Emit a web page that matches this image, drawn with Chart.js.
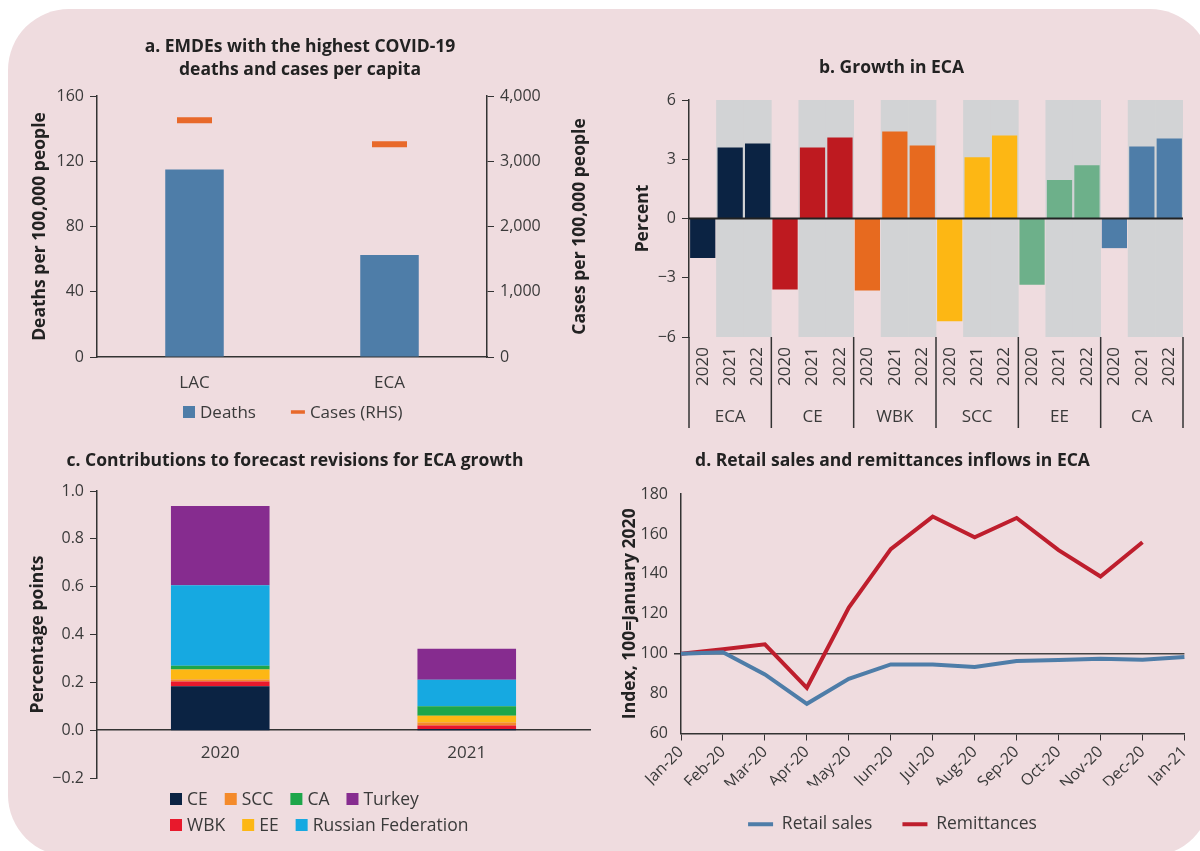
<!DOCTYPE html>
<html>
<head>
<meta charset="utf-8">
<script src="https://cdn.jsdelivr.net/npm/chart.js@4.4.0/dist/chart.umd.min.js"></script>
<style>
  body { margin: 0; background: #fff; width: 1200px; height: 851px; overflow: hidden; position: relative; }
  #card { position: absolute; left: 8px; top: 9px; width: 1203px; height: 847px; border-radius: 61px; background: #efdcdf; }
  canvas { position: absolute; }
</style>
</head>
<body>
<div id="card"></div>
<canvas id="chartA" width="600" height="405" style="left:0;top:25px"></canvas>
<canvas id="chartB" width="600" height="392" style="left:600px;top:45px"></canvas>
<canvas id="chartC" width="600" height="411" style="left:0;top:440px"></canvas>
<canvas id="chartD" width="600" height="403" style="left:600px;top:440px"></canvas>
<script>
// panel a
var regionsA = ['LAC', 'ECA'];
var deaths = [115, 62.5];
var cases = [3630, 3260];

// panel b
var groupsB = ['ECA', 'CE', 'WBK', 'SCC', 'EE', 'CA'];
var yearsB = ['2020', '2021', '2022'];
var growthB = [
  -2.0, 3.6, 3.8,
  -3.6, 3.6, 4.1,
  -3.65, 4.4, 3.7,
  -5.2, 3.1, 4.2,
  -3.35, 1.95, 2.7,
  -1.5, 3.65, 4.05
];
var groupColorsB = ['#0b2343', '#be1a20', '#e76a1f', '#fdb714', '#6db08a', '#4e7da8'];

// panel c
var yearsC = ['2020', '2021'];
var contribCE = [0.184, 0.005];
var contribWBK = [0.02, 0.015];
var contribSCC = [0.008, 0.012];
var contribEE = [0.042, 0.028];
var contribCA = [0.015, 0.04];
var contribRussia = [0.337, 0.111];
var contribTurkey = [0.331, 0.129];

// panel d
var monthsD = ['Jan-20', 'Feb-20', 'Mar-20', 'Apr-20', 'May-20', 'Jun-20', 'Jul-20',
  'Aug-20', 'Sep-20', 'Oct-20', 'Nov-20', 'Dec-20', 'Jan-21'];
var retailSales = [100, 100.7, 89.6, 74.9, 87.4, 94.6, 94.6, 93.3, 96.3, 96.8, 97.5, 97.0, 98.3];
var remittances = [100, 102.2, 104.7, 82.9, 123.1, 152.4, 168.7, 158.3, 168.0, 151.9, 138.7, 155.8, null];

var fontFamily = '"Open Sans", "Noto Sans", sans-serif';
Chart.defaults.font.family = fontFamily;
Chart.defaults.font.size = 16;
Chart.defaults.color = '#3a3a3a';
Chart.defaults.animation = false;
Chart.defaults.responsive = false;
Chart.defaults.plugins.tooltip.enabled = false;

var dark = '#333';
var titleFont = { size: 17.5, weight: 'bold', lineHeight: 1.31 };
var axisTitleFont = { size: 17.5, weight: 'bold' };

function minus(v, digits) {
  v = Number(v.toFixed(digits));
  var s = Math.abs(v).toFixed(digits);
  return v < 0 ? '\u2212' + s : s;
}

// right axis title, reading bottom to top
const rightTitle = {
  id: 'rightTitle',
  afterDraw(chart, args, opts) {
    const ctx = chart.ctx;
    const area = chart.chartArea;
    ctx.save();
    ctx.translate(opts.x, (area.top + area.bottom) / 2);
    ctx.rotate(-Math.PI / 2);
    ctx.font = 'bold 17.5px ' + fontFamily;
    ctx.fillStyle = '#222';
    ctx.textAlign = 'center';
    ctx.textBaseline = 'middle';
    ctx.fillText(opts.text, 0, 0);
    ctx.restore();
  }
};

// dark line at zero drawn over the bars
const zeroLine = {
  id: 'zeroLine',
  afterDatasetsDraw(chart) {
    const ctx = chart.ctx;
    const area = chart.chartArea;
    const y = chart.scales.y.getPixelForValue(0);
    ctx.save();
    ctx.strokeStyle = '#222';
    ctx.lineWidth = 2;
    ctx.beginPath();
    ctx.moveTo(area.left, y);
    ctx.lineTo(area.right, y);
    ctx.stroke();
    ctx.restore();
  }
};

// group separators and group names under the year labels
const groupLabels = {
  id: 'groupLabels',
  afterDraw(chart, args, opts) {
    const ctx = chart.ctx;
    const x = chart.scales.x;
    const bottom = chart.chartArea.bottom;
    const n = opts.groups.length;
    const w = (x.right - x.left) / n;
    ctx.save();
    ctx.strokeStyle = dark;
    ctx.lineWidth = 1.5;
    for (let i = 0; i <= n; i++) {
      const px = x.left + i * w;
      ctx.beginPath();
      ctx.moveTo(px, bottom);
      ctx.lineTo(px, bottom + opts.length);
      ctx.stroke();
    }
    ctx.font = '17px ' + fontFamily;
    ctx.fillStyle = '#3a3a3a';
    ctx.textAlign = 'center';
    ctx.textBaseline = 'middle';
    opts.groups.forEach((g, i) => {
      ctx.fillText(g, x.left + (i + 0.5) * w, bottom + opts.labelOffset);
    });
    ctx.restore();
  }
};

// legend in fixed rows, each row starting from the same left edge
const rowLegend = {
  id: 'rowLegend',
  afterDraw(chart, args, opts) {
    const ctx = chart.ctx;
    ctx.save();
    ctx.font = opts.fontSize + 'px ' + fontFamily;
    ctx.textBaseline = 'middle';
    opts.rows.forEach((row, r) => {
      let x = opts.x;
      const y = opts.y + r * (opts.rowGap || 0);
      row.forEach(name => {
        const ds = chart.data.datasets.find(d => d.label === name);
        let w = 12;
        if (ds.type === 'line') {
          w = opts.lineLength;
          ctx.strokeStyle = ds.borderColor;
          ctx.lineWidth = opts.lineWidth;
          ctx.beginPath();
          ctx.moveTo(x, y);
          ctx.lineTo(x + w, y);
          ctx.stroke();
        } else {
          ctx.fillStyle = ds.backgroundColor;
          ctx.fillRect(x, y - 6, 12, 12);
        }
        ctx.fillStyle = '#3a3a3a';
        ctx.fillText(name, x + w + 5, y + 1);
        x += w + 5 + ctx.measureText(name).width + opts.gap;
      });
    });
    ctx.restore();
  }
};

// a. deaths and cases
new Chart(document.getElementById('chartA'), {
  data: {
    labels: regionsA,
    datasets: [{
      type: 'bar',
      label: 'Deaths',
      data: deaths,
      backgroundColor: '#4e7da8',
      barPercentage: 0.3,
      categoryPercentage: 1,
      yAxisID: 'y'
    }, {
      type: 'line',
      label: 'Cases (RHS)',
      data: cases,
      showLine: false,
      pointStyle: 'line',
      pointRadius: 17.5,
      pointBorderWidth: 6,
      borderColor: '#e8692a',
      backgroundColor: '#e8692a',
      yAxisID: 'y1'
    }]
  },
  options: {
    layout: { padding: { left: 0, right: 0, top: 0, bottom: 38 } },
    plugins: {
      title: {
        display: true,
        text: ['a. EMDEs with the highest COVID-19', 'deaths and cases per capita'],
        font: titleFont,
        color: '#222',
        padding: { top: 10.5, bottom: 14.7 }
      },
      legend: { display: false },
      rowLegend: {
        x: 183, y: 387, gap: 35, fontSize: 17, lineLength: 14, lineWidth: 3.5,
        rows: [['Deaths', 'Cases (RHS)']]
      },
      rightTitle: { x: 580, text: 'Cases per 100,000 people' }
    },
    scales: {
      x: {
        grid: { display: false },
        border: { color: dark, width: 1.5 },
        ticks: { padding: 8, font: { size: 17 } },
        afterFit(s) { s.height = 35; }
      },
      y: {
        min: 0, max: 160,
        ticks: { stepSize: 40, padding: 6 },
        grid: { drawOnChartArea: false, tickLength: 7, tickColor: dark },
        border: { color: dark, width: 1.5 },
        title: { display: true, text: 'Deaths per 100,000 people', font: axisTitleFont, color: '#222', padding: { top: 29.5, bottom: 0 } },
        afterFit(s) { s.width = 97; }
      },
      y1: {
        position: 'right',
        min: 0, max: 4000,
        ticks: { stepSize: 1000, padding: 6, callback: v => v.toLocaleString('en-US') },
        grid: { drawOnChartArea: false, tickLength: 7, tickColor: dark },
        border: { color: dark, width: 1.5 },
        afterFit(s) { s.width = 113; }
      }
    }
  },
  plugins: [rightTitle, rowLegend]
});

// b. growth in ECA
var labelsB = [];
var colorsB = [];
var shadeB = [];
groupsB.forEach((g, i) => {
  yearsB.forEach((yr, j) => {
    labelsB.push(yr);
    colorsB.push(groupColorsB[i]);
    shadeB.push(j === 0 ? null : [-6, 6]);
  });
});

new Chart(document.getElementById('chartB'), {
  type: 'bar',
  data: {
    labels: labelsB,
    datasets: [{
      label: 'Growth',
      data: growthB,
      backgroundColor: colorsB,
      barPercentage: 0.92,
      categoryPercentage: 1,
      grouped: false,
      order: 0
    }, {
      label: 'Forecast',
      data: shadeB,
      backgroundColor: '#d2d3d5',
      barPercentage: 1,
      categoryPercentage: 1,
      grouped: false,
      order: 1
    }]
  },
  options: {
    layout: { padding: { left: 0, right: 17, top: 0, bottom: 0 } },
    plugins: {
      title: {
        display: true,
        text: 'b. Growth in ECA',
        font: titleFont,
        color: '#222',
        padding: { top: 11.5, bottom: 20.6 }
      },
      legend: { display: false },
      groupLabels: { groups: groupsB, length: 91, labelOffset: 80 }
    },
    scales: {
      x: {
        grid: { display: false },
        border: { display: false },
        ticks: { minRotation: 90, maxRotation: 90, padding: 2, autoSkip: false, font: { size: 17 } },
        afterFit(s) { s.height = 100; }
      },
      y: {
        min: -6, max: 6,
        ticks: { stepSize: 3, padding: 6, callback: v => minus(v, 0) },
        grid: { drawOnChartArea: false, tickLength: 7, tickColor: dark },
        border: { color: dark, width: 1.5 },
        title: { display: true, text: 'Percent', font: axisTitleFont, color: '#222', padding: { top: 32.5, bottom: 0 } },
        afterFit(s) { s.width = 89; }
      }
    }
  },
  plugins: [zeroLine, groupLabels]
});

// c. contributions to forecast revisions
new Chart(document.getElementById('chartC'), {
  type: 'bar',
  data: {
    labels: yearsC,
    datasets: [
      { label: 'CE', data: contribCE, backgroundColor: '#0b2343' },
      { label: 'WBK', data: contribWBK, backgroundColor: '#e8192c' },
      { label: 'SCC', data: contribSCC, backgroundColor: '#f48a2a' },
      { label: 'EE', data: contribEE, backgroundColor: '#fdb714' },
      { label: 'CA', data: contribCA, backgroundColor: '#1da64a' },
      { label: 'Russian Federation', data: contribRussia, backgroundColor: '#16a9e1' },
      { label: 'Turkey', data: contribTurkey, backgroundColor: '#862c8f' }
    ].map(d => Object.assign(d, { barPercentage: 0.4, categoryPercentage: 1, borderWidth: 0 }))
  },
  options: {
    layout: { padding: { left: 0, right: 10, top: 0, bottom: 73 } },
    plugins: {
      title: {
        display: true,
        text: 'c. Contributions to forecast revisions for ECA growth',
        font: titleFont,
        color: '#222',
        padding: { top: 9.5, bottom: 18.6 }
      },
      legend: { display: false },
      rowLegend: {
        x: 170, y: 359, rowGap: 26, gap: 17, fontSize: 17.5,
        rows: [['CE', 'SCC', 'CA', 'Turkey'], ['WBK', 'EE', 'Russian Federation']]
      }
    },
    scales: {
      x: {
        stacked: true,
        position: { y: 0 },
        grid: { display: false },
        border: { color: dark, width: 1.5 },
        ticks: { padding: 5, font: { size: 17 } }
      },
      y: {
        stacked: true,
        min: -0.2, max: 1.0,
        ticks: { stepSize: 0.2, padding: 6, callback: v => minus(v, 1) },
        grid: { drawOnChartArea: false, tickLength: 7, tickColor: dark },
        border: { color: dark, width: 1.5 },
        title: { display: true, text: 'Percentage points', font: axisTitleFont, color: '#222', padding: { top: 28, bottom: 0 } },
        afterFit(s) { s.width = 97; }
      }
    }
  },
  plugins: [rowLegend]
});

// d. retail sales and remittances
new Chart(document.getElementById('chartD'), {
  type: 'line',
  data: {
    labels: monthsD,
    datasets: [{
      label: 'Retail sales',
      data: retailSales,
      borderColor: '#4e7da8',
      backgroundColor: '#4e7da8',
      borderWidth: 4,
      pointRadius: 0,
      pointStyle: 'line',
      tension: 0
    }, {
      label: 'Remittances',
      data: remittances,
      borderColor: '#be1e2d',
      backgroundColor: '#be1e2d',
      borderWidth: 4,
      pointRadius: 0,
      pointStyle: 'line',
      tension: 0
    }]
  },
  options: {
    layout: { padding: { left: 0, right: 15, top: 0, bottom: 0 } },
    plugins: {
      title: {
        display: true,
        text: 'd. Retail sales and remittances inflows in ECA',
        font: titleFont,
        color: '#222',
        padding: { top: 9.5, bottom: 21.6 }
      },
      legend: {
        position: 'bottom',
        labels: { usePointStyle: true, pointStyleWidth: 25, boxHeight: 12, padding: 30, font: { size: 17.5 } }
      }
    },
    scales: {
      x: {
        offset: false,
        grid: { drawOnChartArea: false, tickLength: 7, tickColor: dark },
        border: { color: dark, width: 1.5 },
        ticks: { minRotation: 45, maxRotation: 45, padding: 2, autoSkip: false },
        afterFit(s) { s.height = 52; }
      },
      y: {
        min: 60, max: 180,
        ticks: { stepSize: 20, padding: 6 },
        grid: {
          color: c => c.tick && c.tick.value === 100 ? '#444' : 'transparent',
          lineWidth: c => c.tick && c.tick.value === 100 ? 1.5 : 0,
          tickLength: 7,
          tickColor: dark
        },
        border: { color: dark, width: 1.5 },
        title: { display: true, text: 'Index, 100=January 2020', font: axisTitleFont, color: '#222', padding: { top: 20, bottom: 0 } },
        afterFit(s) { s.width = 81; }
      }
    }
  }
});
</script>
</body>
</html>
